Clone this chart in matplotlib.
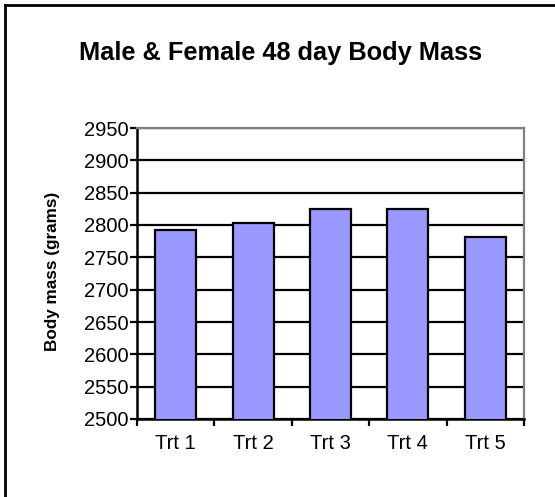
import matplotlib
matplotlib.use("Agg")
import matplotlib.pyplot as plt
from matplotlib.lines import Line2D
import numpy as np

categories = ["Trt 1", "Trt 2", "Trt 3", "Trt 4", "Trt 5"]
body_mass = [2792, 2803, 2825, 2824, 2781]
y_ticks = [2500, 2550, 2600, 2650, 2700, 2750, 2800, 2850, 2900, 2950]

plt.rcParams['font.family'] = ['Liberation Sans', 'DejaVu Sans']

W, H = 555, 497
fig = plt.figure(figsize=(W / 100, H / 100), dpi=100)
fig.patch.set_facecolor("white")

def fx(px):
    return px / W

def fy(py):
    return 1 - py / H

left, right, top, bottom = 137, 524, 128, 419
ax = fig.add_axes([fx(left), fy(bottom), fx(right) - fx(left), fy(top) - fy(bottom)])

x = np.arange(len(categories))
ax.set_axisbelow(True)
ax.yaxis.grid(True, color="black", linewidth=1.6)
ax.bar(x, body_mass, width=0.53, color="#9999FF", edgecolor="black", linewidth=1.6, zorder=3)

ax.set_xlim(-0.5, len(categories) - 0.5)
ax.set_ylim(y_ticks[0], y_ticks[-1])
ax.set_yticks(y_ticks)
ax.set_yticklabels([str(t) for t in y_ticks], fontsize=14.5)
ax.set_xticks(x)
ax.set_xticklabels(categories, fontsize=14.5)
ax.tick_params(axis="x", length=0, pad=10.5)
ax.set_xticks(np.arange(len(categories) + 1) - 0.5, minor=True)
ax.tick_params(axis="x", which="minor", length=5, width=1.6, direction="out")
ax.tick_params(axis="y", length=5, width=1.6, direction="out", pad=1)

for s in ["left", "bottom"]:
    ax.spines[s].set_color("black")
    ax.spines[s].set_linewidth(1.8)
for s in ["top", "right"]:
    ax.spines[s].set_color("#808080")
    ax.spines[s].set_linewidth(1.6)

fig.text(fx(53), fy(271), "Body mass (grams)", fontsize=12.3, fontweight="bold",
         rotation=90, ha="center", va="center")

fig.text(fx(281), fy(53), "Male & Female 48 day Body Mass", fontsize=18.3,
         fontweight="bold", ha="center", va="center")

fig.add_artist(Line2D([fx(5), fx(W)], [fy(5), fy(5)], color="black", linewidth=2,
                      transform=fig.transFigure))
fig.add_artist(Line2D([fx(5), fx(5)], [fy(5), fy(H)], color="black", linewidth=2,
                      transform=fig.transFigure))

fig.savefig("out.png", dpi=100, facecolor="white")
